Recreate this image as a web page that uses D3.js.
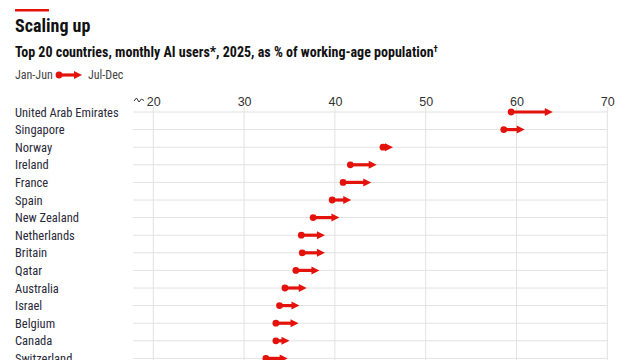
<!DOCTYPE html>
<html><head><meta charset="utf-8">
<script src="https://cdn.jsdelivr.net/npm/d3@7"></script>
<style>
body{margin:0;background:#fff;}
svg{display:block;font-family:"Liberation Sans Narrow","Roboto Condensed",Roboto,sans-serif;}
</style></head>
<body><svg id="c" width="640" height="360"></svg>
<script>
const countries = ["United Arab Emirates","Singapore","Norway","Ireland","France","Spain","New Zealand","Netherlands","Britain","Qatar","Australia","Israel","Belgium","Canada","Switzerland"];
const janJun = [59.4,58.6,45.3,41.7,40.9,39.7,37.6,36.3,36.4,35.7,34.5,33.9,33.5,33.5,32.4];
const julDec = [64.0,60.9,46.4,44.6,44.0,41.8,40.5,38.9,38.9,38.3,36.9,36.1,36.0,35.0,34.8];
const ticks = [20,30,40,50,60,70];

const red = "#e3120b";
const svg = d3.select("#c");
const data = countries.map((c,i)=>({c, a:janJun[i], b:julDec[i]}));

const x = d3.scaleLinear().domain([20,70]).range([153.3,607.3]);
const y = d3.scalePoint().domain(countries).range([112, 112+17.6*(countries.length-1)]);

// top red bar
svg.append("rect").attr("x",15).attr("y",9).attr("width",34).attr("height",2.5).attr("fill",red);
svg.append("text").attr("x",15).attr("y",32).attr("font-size",18).attr("font-weight","bold").attr("fill","#111").text("Scaling up");
const st = svg.append("text").attr("x",15).attr("y",57).attr("font-size",14).attr("font-weight","bold").attr("fill","#111");
st.append("tspan").text("Top 20 countries, monthly AI users*, 2025, as % of working-age population");
st.append("tspan").attr("dy",-5).attr("font-size",9).text("†");

// legend
const lg = svg.append("g");
lg.append("text").attr("x",15).attr("y",79).attr("font-size",12).attr("fill","#444").text("Jan-Jun");
lg.append("line").attr("x1",59).attr("x2",76).attr("y1",75).attr("y2",75).attr("stroke",red).attr("stroke-width",3.2);
lg.append("circle").attr("cx",59).attr("cy",75).attr("r",3.4).attr("fill",red);
lg.append("path").attr("d","M74,71 L82,75 L74,79 Z").attr("fill",red);
lg.append("text").attr("x",88).attr("y",79).attr("font-size",12).attr("fill","#444").text("Jul-Dec");

// grid
const grid = svg.append("g");
grid.selectAll("line.v").data(ticks).join("line")
  .attr("x1",d=>x(d)).attr("x2",d=>x(d)).attr("y1",107).attr("y2",360)
  .attr("stroke","#e2e2e2").attr("stroke-width",1);
grid.selectAll("line.h").data(countries).join("line")
  .attr("x1",133).attr("x2",x(70)).attr("y1",d=>y(d)).attr("y2",d=>y(d))
  .attr("stroke","#e2e2e2").attr("stroke-width",1);

// axis
const axis = d3.axisTop(x).tickValues(ticks).tickSize(0).tickPadding(0);
const ag = svg.append("g").attr("transform","translate(0,106)").call(axis);
ag.select(".domain").remove();
ag.selectAll("text").attr("font-size",12.5).attr("fill","#333").attr("font-family","inherit").attr("dy","0");
// axis break symbol
svg.append("path").attr("d","M134,101 L136.5,98 L139,102 L141.5,99 L144,100.5")
  .attr("fill","none").attr("stroke","#333").attr("stroke-width",1);

// labels
svg.append("g").selectAll("text").data(data).join("text")
  .attr("x",15).attr("y",d=>y(d.c)+4.5).attr("font-size",12.5).attr("fill","#2a2a3a").text(d=>d.c);

// arrows
const g = svg.append("g").selectAll("g").data(data).join("g");
g.append("line").attr("x1",d=>x(d.a)).attr("x2",d=>x(d.b)-5).attr("y1",d=>y(d.c)).attr("y2",d=>y(d.c))
  .attr("stroke",red).attr("stroke-width",3.2);
g.append("circle").attr("cx",d=>x(d.a)).attr("cy",d=>y(d.c)).attr("r",3.4).attr("fill",red);
g.append("path").attr("d",d=>{const t=x(d.b), c=y(d.c); return `M${t-8},${c-4} L${t},${c} L${t-8},${c+4} Z`;}).attr("fill",red);
</script></body></html>
